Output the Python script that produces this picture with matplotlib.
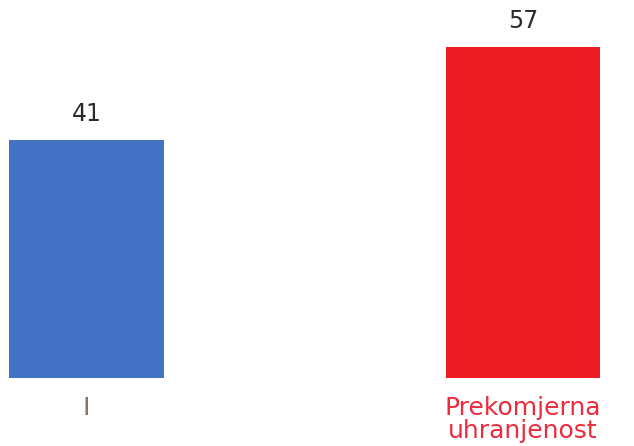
import matplotlib.pyplot as plt

# Podaci
kategorije = ['I', 'Prekomjerna\nuhranjenost']
vrijednosti = [41, 57]
boje_stupaca = ['#4472C4', '#ED1C24']
boje_oznaka = ['#8a7560', '#EE2A3C']

fig = plt.figure(figsize=(6.34, 4.46), dpi=100)
ax = fig.add_axes([0, 0, 1, 1])

pozicije = range(len(vrijednosti))
stupci = ax.bar(pozicije, vrijednosti, width=0.353, color=boje_stupaca)

# Vrijednosti iznad stupaca
for x, v in zip(pozicije, vrijednosti):
    ax.annotate(str(v), (x, v), xytext=(0, 10), textcoords='offset points',
                ha='center', va='bottom', fontsize=17, color='#2b2b2b')

# Nazivi kategorija ispod stupaca
for x, naziv, boja in zip(pozicije, kategorije, boje_oznaka):
    ax.annotate(naziv, (x, 0), xytext=(0, -13), textcoords='offset points',
                ha='center', va='top', fontsize=18, color=boja,
                linespacing=0.92)

ax.set_xlim(-0.198, 1.254)
ax.set_ylim(-11.71, 65.09)
ax.axis('off')

fig.savefig('out.png', dpi=100)
